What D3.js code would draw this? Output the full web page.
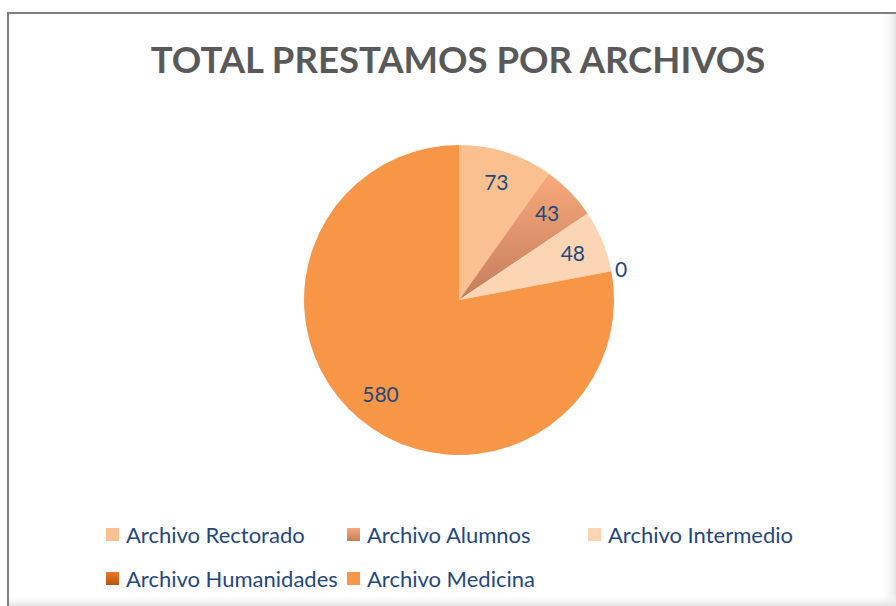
<!DOCTYPE html>
<html>
<head>
<meta charset="utf-8">
<script src="https://cdn.jsdelivr.net/npm/d3@7"></script>
<style>
  html, body { margin: 0; padding: 0; background: #fff; }
  svg { display: block; }
</style>
</head>
<body>
<div id="chart"></div>
<script>
// data
const categories = ["Archivo Rectorado", "Archivo Alumnos", "Archivo Intermedio", "Archivo Humanidades", "Archivo Medicina"];
const values = [73, 43, 48, 0, 580];
const chartTitle = "TOTAL PRESTAMOS POR ARCHIVOS";

const width = 896, height = 606;
const cx = 459, cy = 300, radius = 155;
const labelColor = "#1F497D";
const fontFamily = "Lato, 'Open Sans', sans-serif";

const data = categories.map((c, i) => ({ name: c, value: values[i] }));

const svg = d3.select("#chart")
  .append("svg")
    .attr("width", width)
    .attr("height", height);

const defs = svg.append("defs");

// gradients for the two "shaded" slices
function vGradient(id, top, bottom) {
  const g = defs.append("linearGradient")
    .attr("id", id)
    .attr("x1", 0).attr("y1", 0)
    .attr("x2", 0).attr("y2", 1);
  g.append("stop").attr("offset", "0%").attr("stop-color", top);
  g.append("stop").attr("offset", "100%").attr("stop-color", bottom);
}
vGradient("gradAlumnos", "#F9A97B", "#C47D5B");
vGradient("gradHuman", "#EA7B2C", "#B5540F");

// soft shadow along the right and bottom edges
const shR = defs.append("linearGradient").attr("id", "shadeR").attr("x1", 0).attr("x2", 1).attr("y1", 0).attr("y2", 0);
shR.append("stop").attr("offset", "0%").attr("stop-color", "#fff").attr("stop-opacity", 0);
shR.append("stop").attr("offset", "100%").attr("stop-color", "#e6e6e6");
const shB = defs.append("linearGradient").attr("id", "shadeB").attr("x1", 0).attr("x2", 0).attr("y1", 0).attr("y2", 1);
shB.append("stop").attr("offset", "0%").attr("stop-color", "#fff").attr("stop-opacity", 0);
shB.append("stop").attr("offset", "100%").attr("stop-color", "#e2e2e2");

const color = d3.scaleOrdinal()
  .domain(categories)
  .range(["#FAC090", "url(#gradAlumnos)", "#FCD5B5", "url(#gradHuman)", "#F79646"]);

svg.append("rect")
  .attr("x", 880).attr("y", 13)
  .attr("width", 16).attr("height", height)
  .attr("fill", "url(#shadeR)");
svg.append("rect")
  .attr("x", 8).attr("y", 594)
  .attr("width", width).attr("height", 12)
  .attr("fill", "url(#shadeB)");

// chart area border (cut off at right and bottom)
svg.append("path")
  .attr("d", `M${width + 2},13 H8 V${height + 2}`)
  .attr("fill", "none")
  .attr("stroke", "#7F7F7F")
  .attr("stroke-width", 2);

// title
svg.append("text")
  .attr("x", 458)
  .attr("y", 73)
  .attr("text-anchor", "middle")
  .style("font-family", fontFamily)
  .style("font-weight", "bold")
  .style("font-size", "36.5px")
  .attr("fill", "#595959")
  .text(chartTitle);

// pie
const pie = d3.pie().value(d => d.value).sort(null);
const arc = d3.arc().innerRadius(0).outerRadius(radius);
const labelArc = d3.arc().innerRadius(123).outerRadius(123);
const outerLabelArc = d3.arc().innerRadius(165).outerRadius(165);

const g = svg.append("g")
  .attr("transform", `translate(${cx},${cy})`);

const arcs = pie(data);

g.selectAll(".slice")
  .data(arcs)
  .enter()
  .append("path")
    .attr("class", "slice")
    .attr("d", arc)
    .attr("fill", d => color(d.data.name));

g.selectAll(".dataLabel")
  .data(arcs)
  .enter()
  .append("text")
    .attr("class", "dataLabel")
    .attr("transform", d => {
      const p = d.data.value === 0 ? outerLabelArc.centroid(d) : labelArc.centroid(d);
      return `translate(${p[0]},${p[1]})`;
    })
    .attr("dy", "0.35em")
    .attr("text-anchor", "middle")
    .style("font-family", fontFamily)
    .style("font-size", "21px")
    .attr("fill", labelColor)
    .text(d => d.data.value);

// legend: 3 columns, wraps to a second row
const legendX = d3.scalePoint().domain([0, 1, 2]).range([106, 588]);
const legendY = d3.scalePoint().domain([0, 1]).range([535, 579]);

const legend = svg.append("g")
  .selectAll(".legendItem")
  .data(categories)
  .enter()
  .append("g")
    .attr("class", "legendItem")
    .attr("transform", (d, i) => `translate(${legendX(i % 3)},${legendY(Math.floor(i / 3))})`);

legend.append("rect")
  .attr("x", 0)
  .attr("y", -7)
  .attr("width", 13)
  .attr("height", 13)
  .attr("fill", d => color(d));

legend.append("text")
  .attr("x", 20)
  .attr("dy", "0.35em")
  .style("font-family", fontFamily)
  .style("font-size", "22px")
  .attr("fill", labelColor)
  .text(d => d);
</script>
</body>
</html>
